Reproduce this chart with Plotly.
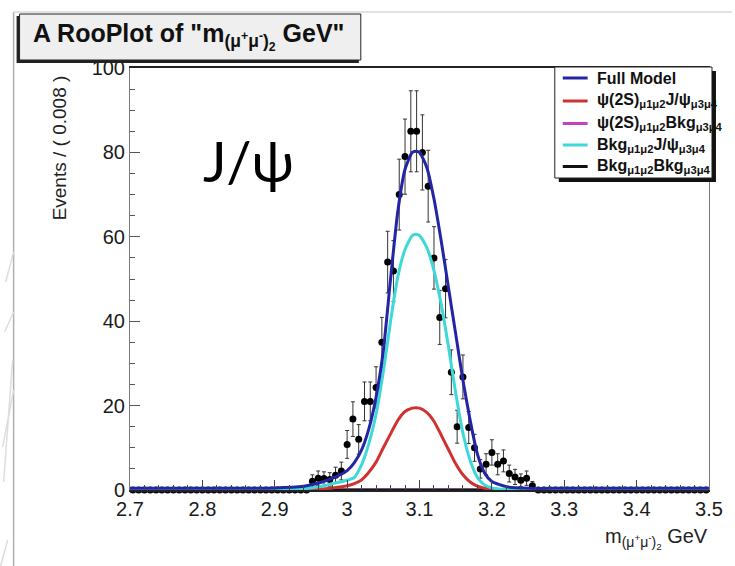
import plotly.graph_objects as go

# ---------------- data ----------------
mass_lo = 2.7
bin_width = 0.008
counts = [0, 0, 0, 0, 0, 0, 0, 0, 0, 0,
          0, 0, 0, 0, 0, 0, 0, 0, 0, 0,
          0, 0, 0, 0, 0, 0, 0, 0, 0, 0,
          0, 2.1, 2.8, 2.7, 2.5, 3.5, 4.5, 10.8, 16.8, 12,
          21, 21, 24.3, 35, 54, 51.9, 70, 79, 85, 85,
          80, 72, 55, 40.9, 47.7, 27.9, 15, 26.8, 14.8, 10,
          5, 6.1, 8.9, 6.1, 6.9, 3.9, 3.1, 2.3, 2.8, 1,
          0, 0, 0, 0, 0, 0, 0, 0, 0, 0,
          0, 0, 0, 0, 0, 0, 0, 0, 0, 0,
          0, 0, 0, 0, 0, 0, 0, 0, 0, 0]
errors = [0, 0, 0, 0, 0, 0, 0, 0, 0, 0,
          0, 0, 0, 0, 0, 0, 0, 0, 0, 0,
          0, 0, 0, 0, 0, 0, 0, 0, 0, 0,
          0, 1.5, 1.7, 1.6, 1.6, 1.9, 2.1, 3.3, 4.1, 3.5,
          4.6, 4.6, 4.9, 5.9, 7.3, 7.2, 8.4, 8.9, 9.6, 9.6,
          8.9, 8.5, 7.4, 6.4, 6.9, 5.3, 3.9, 5.2, 3.8, 3.2,
          2.2, 2.5, 3.0, 2.5, 2.6, 2.0, 1.8, 1.5, 1.7, 1.0,
          0, 0, 0, 0, 0, 0, 0, 0, 0, 0,
          0, 0, 0, 0, 0, 0, 0, 0, 0, 0,
          0, 0, 0, 0, 0, 0, 0, 0, 0, 0]

curve_mass = [2.70, 2.90, 2.94, 2.96, 2.98, 3.00, 3.01, 3.02, 3.03, 3.04,
              3.05, 3.06, 3.07, 3.08, 3.09, 3.095, 3.10, 3.11, 3.12, 3.13,
              3.14, 3.15, 3.16, 3.17, 3.18, 3.19, 3.20, 3.22, 3.25, 3.30, 3.50]
full_model = [0.4, 0.5, 0.9, 1.6, 2.8, 4.6, 6.5, 9.5, 14.5, 22,
              33, 50, 66, 76, 80, 80.3, 80, 76.5, 69, 59,
              48, 37, 26, 16.5, 8.5, 4, 2, 0.8, 0.4, 0.4, 0.4]
psi2s_jpsi = [0, 0, 0.1, 0.2, 0.5, 1.0, 1.5, 2.4, 4.2, 6.6,
              10, 13.3, 16.5, 18.6, 19.4, 19.5, 19.4, 18.4, 16.3, 13,
              9.6, 6.2, 3.6, 1.9, 0.9, 0.4, 0.2, 0, 0, 0, 0]
bkg_jpsi = [0, 0.1, 0.3, 0.7, 1.5, 2.3, 3.0, 6, 11, 18,
            28, 40, 50.5, 57, 60.3, 60.6, 60.3, 57.5, 52, 44,
            34, 23, 13.5, 7, 3, 1.2, 0.5, 0.1, 0, 0, 0]
zero_mass = [2.7, 3.5]
psi2s_bkg = [0, 0]
bkg_bkg = [0, 0]

legend_labels = [
    "<b>Full Model</b>",
    "<b>ψ(2S)<sub>μ1μ2</sub>J/ψ<sub>μ3μ4</sub></b>",
    "<b>ψ(2S)<sub>μ1μ2</sub>Bkg<sub>μ3μ4</sub></b>",
    "<b>Bkg<sub>μ1μ2</sub>J/ψ<sub>μ3μ4</sub></b>",
    "<b>Bkg<sub>μ1μ2</sub>Bkg<sub>μ3μ4</sub></b>",
]
legend_colors = ["#2424a6", "#d03232", "#c43fc4", "#3fd8d8", "#111111"]

x_tickvals = [2.7, 2.8, 2.9, 3.0, 3.1, 3.2, 3.3, 3.4, 3.5]
x_ticktext = ["2.7", "2.8", "2.9", "3", "3.1", "3.2", "3.3", "3.4", "3.5"]
y_tickvals = [0, 20, 40, 60, 80, 100]

bin_centers = [mass_lo + bin_width * (i + 0.5) for i in range(len(counts))]

# ---------------- layout geometry (pixels) ----------------
W, H = 735, 566
L, R, T, B = 130, 712, 68, 490


def px(x):
    return (x - L) / (R - L)


def py(y):
    return (B - y) / (B - T)


FONT = "Liberation Sans, Arial, Helvetica, sans-serif"

fig = go.Figure()

# data points first (RooPlot draws data, then model curves)
fig.add_trace(go.Scatter(
    x=bin_centers, y=counts, mode="markers",
    marker=dict(color="black", size=7),
    error_y=dict(type="data", array=errors, color="#333333", thickness=1, width=2),
    showlegend=False, cliponaxis=False))

curves = [(curve_mass, full_model), (curve_mass, psi2s_jpsi), (zero_mass, psi2s_bkg),
          (curve_mass, bkg_jpsi), (zero_mass, bkg_bkg)]
draw_order = [2, 4, 1, 3, 0]
for i in draw_order:
    cx, cy = curves[i]
    fig.add_trace(go.Scatter(x=cx, y=cy, mode="lines",
                             line=dict(color=legend_colors[i], width=3, shape="spline", smoothing=0.6),
                             showlegend=False, hoverinfo="skip", cliponaxis=False))

shapes = []
# canvas border lines
shapes.append(dict(type="line", xref="paper", yref="paper", x0=px(13), x1=px(13), y0=py(12), y1=py(566),
                   line=dict(color="#b0b0b0", width=1.5)))
shapes.append(dict(type="line", xref="paper", yref="paper", x0=px(13), x1=px(735), y0=py(12), y1=py(12),
                   line=dict(color="#d8d8d8", width=1.5)))
# faint slide decorations at left
for (x0, y0, x1, y1) in [(13, 252, 5, 282), (13, 312, 4, 332), (12, 360, 3, 482), (13, 390, 2, 447), (7, 540, 0, 566)]:
    shapes.append(dict(type="line", xref="paper", yref="paper", x0=px(x0), x1=px(x1), y0=py(y0), y1=py(y1),
                       line=dict(color="#dddddd", width=1.5)))
# title box with shadow
shapes.append(dict(type="rect", xref="paper", yref="paper", x0=px(16), x1=px(360), y0=py(16), y1=py(63),
                   fillcolor="#222222", line=dict(width=0)))
shapes.append(dict(type="rect", xref="paper", yref="paper", x0=px(19), x1=px(362), y0=py(14), y1=py(60),
                   fillcolor="#efefef", line=dict(color="#222222", width=1)))
# legend box with shadow
shapes.append(dict(type="rect", xref="paper", yref="paper", x0=px(561), x1=px(719), y0=py(71), y1=py(182),
                   fillcolor="#111111", line=dict(width=0)))
shapes.append(dict(type="rect", xref="paper", yref="paper", x0=px(557), x1=px(715), y0=py(67), y1=py(178),
                   fillcolor="white", line=dict(color="#222222", width=1)))

annotations = []
legend_y = [78, 101, 123.5, 145, 166.5]
for lab, col, ly in zip(legend_labels, legend_colors, legend_y):
    shapes.append(dict(type="line", xref="paper", yref="paper", x0=px(565), x1=px(590), y0=py(ly), y1=py(ly),
                       line=dict(color=col, width=3)))
    annotations.append(dict(text=lab, xref="paper", yref="paper", x=px(597), y=py(ly), xanchor="left",
                            yanchor="middle", showarrow=False, font=dict(family=FONT, size=16, color="#111111")))

annotations.append(dict(text='<b>A RooPlot of "m<sub>(μ<sup>+</sup>μ<sup>-</sup>)<sub>2</sub></sub> GeV"</b>',
                        xref="paper", yref="paper", x=px(189), y=py(36), xanchor="center", yanchor="middle",
                        showarrow=False, font=dict(family=FONT, size=25, color="#111111")))
annotations.append(dict(text="Events / ( 0.008 )", xref="paper", yref="paper", x=px(59), y=py(148),
                        xanchor="center", yanchor="middle", textangle=-90, showarrow=False,
                        font=dict(family=FONT, size=19, color="#222222")))
annotations.append(dict(text="m<sub>(μ<sup>+</sup>μ<sup>-</sup>)<sub>2</sub></sub> GeV", xref="paper", yref="paper",
                        x=px(713), y=py(538), xanchor="right", yanchor="middle", showarrow=False,
                        font=dict(family=FONT, size=20, color="#222222")))
annotations.append(dict(text="J/ψ", xref="paper", yref="paper", x=px(249), y=py(160), xanchor="center",
                        yanchor="middle", showarrow=False, font=dict(family="Lato, Noto Sans, sans-serif", size=56,
                                                                      color="black")))

fig.update_layout(
    width=W, height=H, margin=dict(l=L, r=W - R, t=T, b=H - B),
    paper_bgcolor="white", plot_bgcolor="white",
    shapes=shapes, annotations=annotations, showlegend=False,
    xaxis=dict(range=[2.7, 3.5], tickvals=x_tickvals, ticktext=x_ticktext, ticks="inside", ticklen=10,
               tickcolor="#444444", showgrid=False, zeroline=False, showline=True, linecolor="#222222",
               linewidth=1.5, mirror=True,
               minor=dict(dtick=0.02, tick0=2.7, ticks="inside", ticklen=5, tickcolor="#444444", showgrid=False),
               tickfont=dict(family=FONT, size=20, color="#1a1a1a")),
    yaxis=dict(range=[0, 100], tickvals=y_tickvals, ticks="inside", ticklen=10, tickcolor="#555555",
               showgrid=False, zeroline=False, showline=True, linecolor="#777777", linewidth=1, mirror=True,
               minor=dict(dtick=5, tick0=0, ticks="inside", ticklen=5, tickcolor="#555555", showgrid=False),
               tickfont=dict(family=FONT, size=20, color="#1a1a1a")),
)

fig.write_html("out.html")
